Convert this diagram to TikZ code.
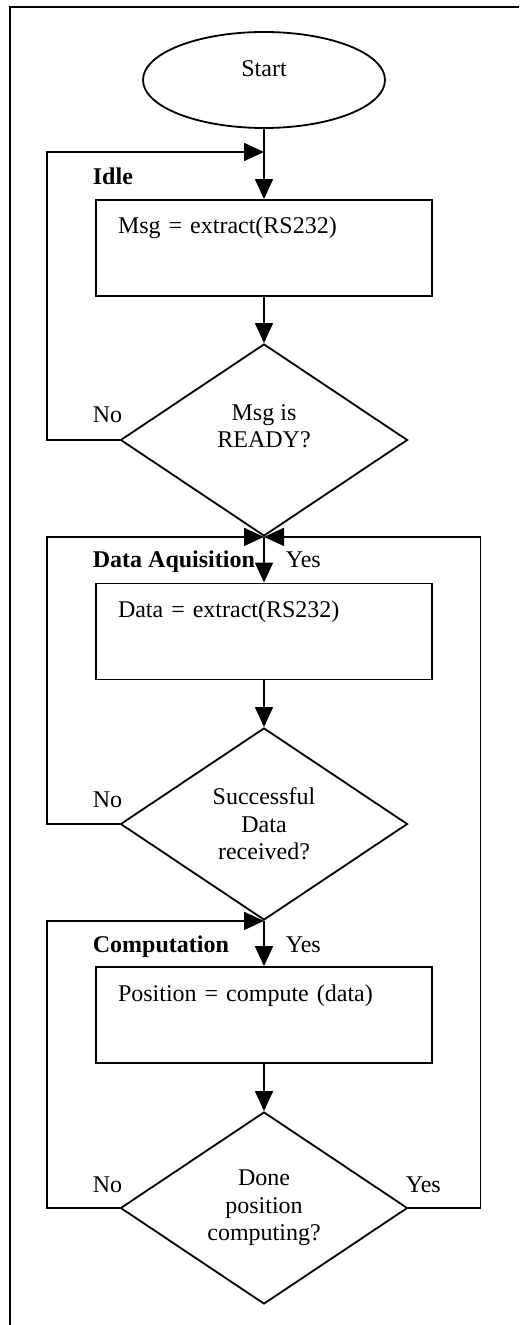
\documentclass[tikz,border=0pt]{standalone}
\usepackage{fontspec}
\setmainfont{Liberation Serif}
\usetikzlibrary{shapes.geometric,arrows.meta}

\begin{document}
\begin{tikzpicture}[x=0.5pt, y=-0.5pt, line width=0.9pt,
		font=\fontsize{12}{13.8}\selectfont,
		>={Triangle[length=10pt, width=9pt]},
		procbox/.style={draw, rectangle, inner xsep=11pt, inner ysep=0pt, text width=146pt, align=left, text height=17pt, text depth=31pt},
		decision/.style={draw, diamond, inner sep=0pt, minimum width=143.5pt, minimum height=96pt, align=center},
		tag/.style={anchor=base west, inner sep=0pt},
		stage/.style={tag, font=\fontsize{12}{13.8}\selectfont\bfseries}]
				\useasboundingbox (0,0) rectangle (519,1325);
				\draw[line width=1.3pt] (519,7) -- (10,7) -- (10,1325);
				\node[draw, ellipse, minimum width=121pt, minimum height=48pt, inner sep=0pt, text height=8pt, text depth=11pt] (Start) at (264,80) {Start};
				\node[procbox] (Msg) at (264,248) {Msg = extract(RS232)};
				\node[decision] (Ready) at (264,440) {Msg is\\READY?\\\mbox{}};
				\node[procbox] (Data) at (264,631.5) {Data = extract(RS232)};
				\node[decision] (Recv) at (264,824) {Successful\\Data\\received?};
				\node[procbox] (Pos) at (264,1015) {Position = compute (data)};
				\node[decision] (Done) at (264,1208) {Done\\position\\computing?};
				\node[stage] (IdleT) at (92,185) {Idle};
				\node[stage] (AcqT) at (92,567) {Data Aquisition};
				\node[stage] (CompT) at (92,952) {Computation};
				\node[tag] (No1) at (92,423) {No};
				\node[tag] (No2) at (92,807) {No};
				\node[tag] (No3) at (92,1192) {No};
				\node[tag] (Yes1) at (285,567) {Yes};
				\node[tag] (Yes2) at (285,952) {Yes};
				\node[tag] (Yes3) at (405,1192) {Yes};
				\coordinate (J1) at (264,152);
				\draw[->] (Start) -- (Msg);
				\draw[->] (Msg) -- (Ready);
				\draw[->] (Ready.west) -- ++(-73,0) |- (J1);
				\draw[->] (Ready) -- (Data);
				\draw[->] (Data) -- (Recv);
				\draw[->] (Recv.west) -- ++(-73,0) |- (Ready.south);
				\draw[->] (Done.east) -- ++(72,0) |- (Ready.south);
				\draw[->] (Recv) -- (Pos);
				\draw[->] (Pos) -- (Done);
				\draw[->] (Done.west) -- ++(-73,0) |- (Recv.south);
			\end{tikzpicture}
\end{document}
